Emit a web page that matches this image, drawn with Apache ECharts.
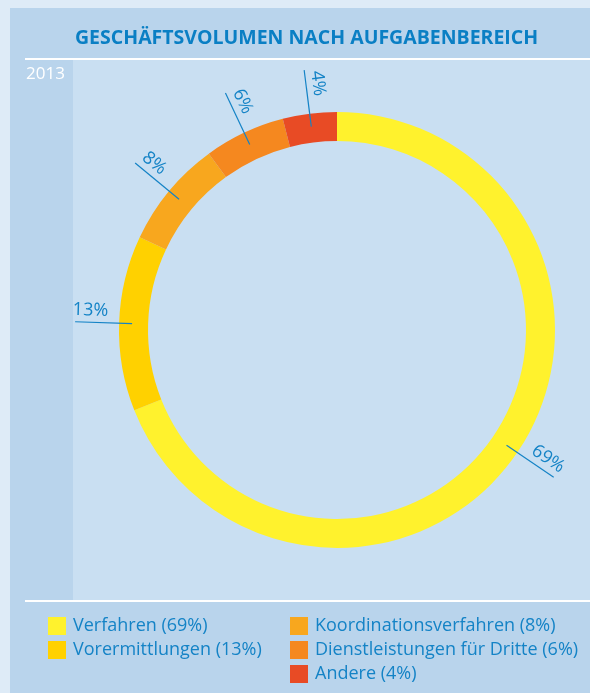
<!DOCTYPE html>
<html>
<head>
<meta charset="utf-8">
<title>Geschäftsvolumen nach Aufgabenbereich</title>
<script src="https://cdn.jsdelivr.net/npm/echarts@6/dist/echarts.min.js"></script>
<style>
  html, body { margin: 0; padding: 0; background: #deebf7; }
  #chart { width: 590px; height: 693px; }
</style>
</head>
<body>
<div id="chart"></div>
<script>
// data
const categories = ['Verfahren', 'Vorermittlungen', 'Koordinationsverfahren', 'Dienstleistungen für Dritte', 'Andere']
const shares = [69, 13, 8, 6, 4]
const yearLabel = '2013'
const titleText = 'GESCHÄFTSVOLUMEN NACH AUFGABENBEREICH'

const colors = ['#fff22d', '#ffd100', '#f8a71e', '#f5881f', '#e84b25']
const blue = '#1483c6'
const fontFamily = '"Open Sans", "Noto Sans", sans-serif'

// leader line / label anchors at slice midpoints (percent of the full circle)
let cum = 0
const labelPoints = shares.map(v => {
    const mid = cum + v / 2
    cum += v
    return [mid, v]
})

const legendBase = {
    orient: 'vertical',
    top: 617,
    padding: 0,
    icon: 'rect',
    itemWidth: 18,
    itemHeight: 18,
    itemGap: 6,
    selectedMode: false,
    formatter: name => name + ' (' + shares[categories.indexOf(name)] + '%)',
    textStyle: { color: blue, fontSize: 18, fontFamily: fontFamily, padding: [0, 0, 0, 2] }
}

const myChart = echarts.init(document.getElementById('chart'), null, { renderer: 'canvas' })

myChart.setOption({
    animation: false,
    backgroundColor: '#deebf7',
    color: colors,
    title: {
        text: titleText,
        left: 70,
        top: 23,
        textStyle: { color: '#0a7fc4', fontSize: 19.5, fontWeight: 'bold', fontFamily: fontFamily }
    },
    graphic: [
        { type: 'rect', z: -10, silent: true, shape: { x: 10, y: 8, width: 580, height: 685 }, style: { fill: '#b9d4ec' } },
        { type: 'rect', z: -9, silent: true, shape: { x: 73, y: 60, width: 517, height: 540 }, style: { fill: '#c9dff2' } },
        { type: 'rect', z: -8, silent: true, shape: { x: 25, y: 58, width: 565, height: 2 }, style: { fill: '#ffffff' } },
        { type: 'rect', z: -8, silent: true, shape: { x: 25, y: 600, width: 565, height: 2 }, style: { fill: '#ffffff' } },
        {
            type: 'text', left: 26, top: 66,
            style: { text: yearLabel, fill: '#ffffff', fontSize: 17, fontFamily: fontFamily }
        }
    ],
    legend: [
        Object.assign({}, legendBase, { data: categories.slice(0, 2), left: 48 }),
        Object.assign({}, legendBase, { data: categories.slice(2), left: 290 })
    ],
    polar: { center: [337, 330], radius: 262 },
    angleAxis: { type: 'value', min: 0, max: 100, startAngle: 90, clockwise: true, show: false },
    radiusAxis: { type: 'value', min: 0, max: 262, show: false },
    series: [
        {
            type: 'pie',
            center: [337, 330],
            radius: [189, 218],
            startAngle: 90,
            clockwise: true,
            silent: true,
            label: { show: false },
            labelLine: { show: false },
            data: categories.map((name, i) => ({ name: name, value: shares[i] }))
        },
        {
            type: 'custom',
            coordinateSystem: 'polar',
            z: 5,
            silent: true,
            data: labelPoints,
            renderItem: function (params, api) {
                const mid = api.value(0)
                const c = api.coord([0, mid])
                const p1 = api.coord([205, mid])
                const p2 = api.coord([262, mid])
                const pt = api.coord([247, mid])
                const phi = Math.atan2(-(pt[1] - c[1]), pt[0] - c[0])
                const rot = Math.cos(phi) < 0 ? phi + Math.PI : phi
                return {
                    type: 'group',
                    children: [
                        {
                            type: 'line',
                            shape: { x1: p1[0], y1: p1[1], x2: p2[0], y2: p2[1] },
                            style: { stroke: blue, lineWidth: 1.2 }
                        },
                        {
                            type: 'text',
                            x: pt[0], y: pt[1], rotation: rot,
                            style: {
                                x: 0, y: -3,
                                text: api.value(1) + '%',
                                fill: blue,
                                fontSize: 18,
                                fontFamily: fontFamily,
                                align: 'center',
                                verticalAlign: 'bottom'
                            }
                        }
                    ]
                }
            }
        }
    ]
})
</script>
</body>
</html>
